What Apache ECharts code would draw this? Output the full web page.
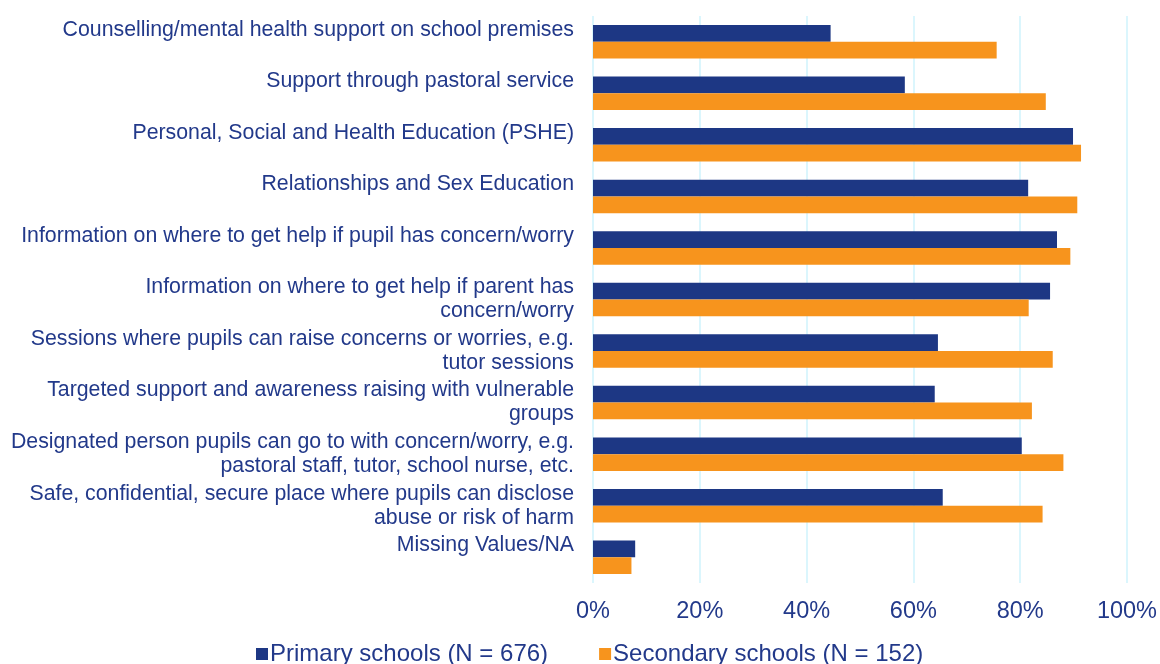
<!DOCTYPE html>
<html>
<head>
<meta charset="utf-8">
<script src="https://cdn.jsdelivr.net/npm/echarts@6/dist/echarts.min.js"></script>
<style>
  html, body { margin: 0; padding: 0; background: #ffffff; }
  #chart { width: 1160px; height: 664px; }
</style>
</head>
<body>
<div id="chart"></div>
<script>
const categories = [
  "Counselling/mental health support on school premises",
  "Support through pastoral service",
  "Personal, Social and Health Education (PSHE)",
  "Relationships and Sex Education",
  "Information on where to get help if pupil has concern/worry",
  "Information on where to get help if parent has\nconcern/worry",
  "Sessions where pupils can raise concerns or worries, e.g.\ntutor sessions",
  "Targeted support and awareness raising with vulnerable\ngroups",
  "Designated person pupils can go to with concern/worry, e.g.\npastoral staff, tutor, school nurse, etc.",
  "Safe, confidential, secure place where pupils can disclose\nabuse or risk of harm",
  "Missing Values/NA"
];
const primaryName = "Primary schools (N = 676)";
const secondaryName = "Secondary schools (N = 152)";
const primaryValues = [44.5, 58.4, 89.9, 81.5, 86.9, 85.6, 64.6, 64.0, 80.3, 65.5, 7.9];
const secondaryValues = [75.6, 84.8, 91.4, 90.7, 89.4, 81.6, 86.1, 82.2, 88.1, 84.2, 7.2];
const xTicks = [0, 20, 40, 60, 80, 100];

const textColor = "#22398a";
const chart = echarts.init(document.getElementById('chart'));
chart.setOption({
  animation: false,
  textStyle: { fontFamily: "Liberation Sans, Arial, sans-serif" },
  grid: { left: 593, right: 32, top: 16, bottom: 81, containLabel: false },
  legend: {
    left: 256,
    top: 642,
    padding: 0,
    itemWidth: 12,
    itemHeight: 12,
    itemGap: 51,
    icon: 'rect',
    textStyle: { color: textColor, fontSize: 24, fontFamily: "Liberation Sans, Arial, sans-serif", padding: [0,0,0,-3] },
    data: [primaryName, secondaryName]
  },
  xAxis: {
    type: 'value',
    min: xTicks[0],
    max: xTicks[xTicks.length - 1],
    interval: 20,
    axisLine: { show: false },
    axisTick: { show: false },
    splitLine: { show: true, lineStyle: { color: '#dbf6fd', width: 2 } },
    axisLabel: {
      color: textColor,
      fontSize: 23.5,
      margin: 17,
      formatter: v => v + '%'
    }
  },
  yAxis: {
    type: 'category',
    inverse: true,
    data: categories,
    axisLine: { show: false },
    axisTick: { show: false },
    axisLabel: {
      color: textColor,
      fontSize: 21.3,
      lineHeight: 24,
      margin: 19,
      align: 'right',
      formatter: v => v.indexOf('\n') >= 0 ? v : v + '\n '
    }
  },
  series: [
    {
      name: primaryName,
      type: 'bar',
      data: primaryValues,
      barGap: '0%',
      barCategoryGap: '35%',
      itemStyle: { color: '#1d3784' }
    },
    {
      name: secondaryName,
      type: 'bar',
      data: secondaryValues,
      barGap: '0%',
      barCategoryGap: '35%',
      itemStyle: { color: '#f7941d' }
    }
  ]
});
</script>
</body>
</html>
